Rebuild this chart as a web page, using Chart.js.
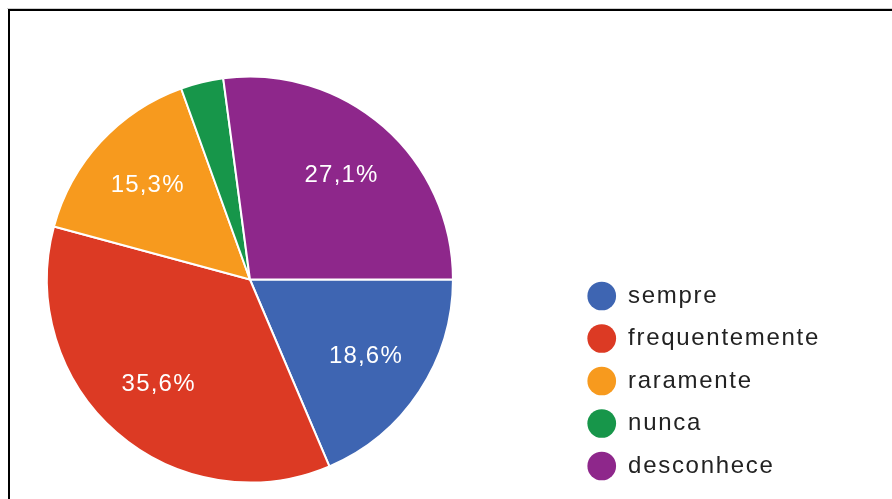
<!DOCTYPE html>
<html>
<head>
<meta charset="utf-8">
<script src="https://cdn.jsdelivr.net/npm/chart.js@4/dist/chart.umd.min.js"></script>
<style>
  html, body { margin:0; padding:0; background:#fff; overflow:hidden; }
  #wrap { position:relative; width:892px; height:499px; overflow:hidden; }
  #frame { position:absolute; left:8px; top:9px; width:1000px; height:1000px; border-left:2px solid #000; border-top:2px solid #000; }
  #edge { position:absolute; left:7px; right:0; top:8px; height:1px; background:#cfcfcf; }
  /* canvas hangs off the left edge so the pie sits left of its chart area */
  canvas { position:absolute; left:-69px; top:0; }
</style>
</head>
<body>
<div id="wrap">
  <div id="edge"></div>
  <div id="frame"></div>
  <canvas id="pie" width="961" height="499"></canvas>
</div>
<script>
const labels = ['sempre', 'frequentemente', 'raramente', 'nunca', 'desconhece'];
const values = [18.6, 35.6, 15.3, 3.4, 27.1];
const colors = ['#3e65b2', '#dc3a24', '#f79a1e', '#17964a', '#8e278b'];

const FONT = '"Liberation Sans", Arial, sans-serif';

// canvas state gets reset on resize, so re-apply the spacing each pass
const spacing = {
  id: 'spacing',
  beforeLayout(chart) { chart.ctx.letterSpacing = '1.7px'; },
  beforeDraw(chart) { chart.ctx.letterSpacing = '1.7px'; },
};

// percentage text inside each slice (small slices stay blank)
const sliceLabels = {
  id: 'sliceLabels',
  afterDatasetsDraw(chart) {
    const { ctx } = chart;
    const meta = chart.getDatasetMeta(0);
    ctx.save();
    ctx.font = `24px ${FONT}`;
    ctx.letterSpacing = '1.2px';
    ctx.fillStyle = '#fff';
    ctx.textAlign = 'center';
    ctx.textBaseline = 'middle';
    meta.data.forEach((arc, i) => {
      if (values[i] < 5) return;
      const { x, y, startAngle, endAngle, outerRadius } = arc.getProps(['x', 'y', 'startAngle', 'endAngle', 'outerRadius'], true);
      const mid = (startAngle + endAngle) / 2, r = outerRadius * 0.685;
      ctx.fillText(values[i].toFixed(1).replace('.', ',') + '%', x + Math.cos(mid) * r, y + Math.sin(mid) * r);
    });
    ctx.restore();
  },
};

new Chart(document.getElementById('pie'), {
  type: 'pie',
  data: {
    labels,
    datasets: [{ data: values, backgroundColor: colors, borderColor: '#fff', borderWidth: 2 }],
  },
  options: {
    responsive: false, animation: false,
    rotation: 90,
    radius: 203,
    layout: { padding: { left: 0, right: 62, top: 62.5, bottom: 2.5 } },
    plugins: {
      tooltip: { enabled: false },
      legend: {
        position: 'right', align: 'end',
        labels: {
          color: '#222', font: { size: 24, family: FONT },
          usePointStyle: true, pointStyle: 'circle', boxHeight: 20.3, pointStyleWidth: 28.7, padding: 18.5,
          generateLabels: c => Chart.overrides.pie.plugins.legend.labels.generateLabels(c).map(l => ({ ...l, lineWidth: 0 })),
        },
      },
    },
  },
  plugins: [spacing, sliceLabels],
});
</script>
</body>
</html>
